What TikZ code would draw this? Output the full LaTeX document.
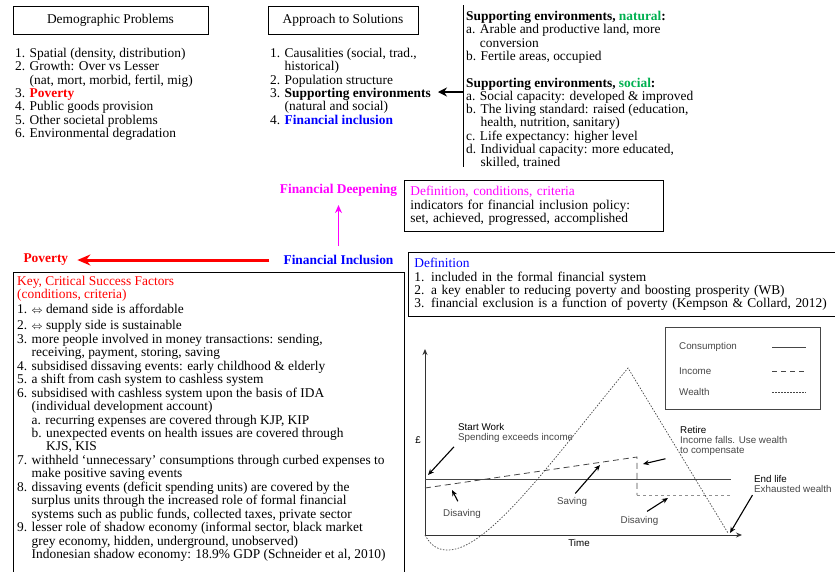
\documentclass[tikz,border=0pt]{standalone}
\usepackage{fontspec}
\setmainfont{Liberation Serif}
\newfontfamily\chartfont{Liberation Sans}
\usetikzlibrary{positioning,arrows.meta,fit}
\definecolor{envgreen}{RGB}{0,176,80}
\definecolor{deepmagenta}{RGB}{255,0,255}
\definecolor{chartgray}{RGB}{70,70,70}
\tikzset{
	>=Stealth
}
\newcommand{\itemind}{\hphantom{1. }}
\newcommand{\iffarrow}{{\fontsize{11}{11}\selectfont$\Leftrightarrow$}}

\begin{document}
\begin{tikzpicture}[
	x = 1pt, y = -1pt,
	node distance = 2mm,
	every node/.style = {
		font = \fontsize{13.4}{13.3}\selectfont,
		inner sep = 0pt
	},
	headbox/.style = {
		draw,
		line width = 0.8pt,
		minimum height = 28pt
	},
	listtext/.style = {
		anchor = north west,
		align = left
	},
	infobox/.style = {
		draw,
		line width = 0.8pt,
		anchor = north west,
		align = left,
		inner xsep = 6pt,
		inner ysep = 6pt
	},
	keyword/.style = {
		font = \fontsize{13.4}{13.3}\selectfont\bfseries
	},
	chartlabel/.style = {
		font = \chartfont\fontsize{9.8}{9.9}\selectfont,
		text = chartgray,
		align = left
	},
	pointer/.style = {
		-{Stealth[length=6pt,width=5pt]},
		line width = 1.1pt
	},
	curve/.style = {
		draw = chartgray,
		line width = 0.8pt
	}
	]

	\useasboundingbox (0,0) rectangle (835,571);

	% problems and approach
	\node[headbox, minimum width = 195pt] (demohead) at (110.5,20) {Demographic Problems};
	\node[headbox, minimum width = 150pt] (approachhead) at (343,20) {Approach to Solutions};

	\node[listtext] (demolist) at (15,48) {1. Spatial (density, distribution)\\
		2. Growth: Over vs Lesser\\
		\itemind(nat, mort, morbid, fertil, mig)\\
		3. \textcolor{red}{\textbf{Poverty}}\\
		4. Public goods provision\\
		5. Other societal problems\\
		6. Environmental degradation};

	\node[listtext] (approachlist) at (270,48) {1. Causalities (social, trad.,\\
		\itemind historical)\\
		2. Population structure\\
		3. \textbf{Supporting environments}\\
		\itemind(natural and social)\\
		4. \textcolor{blue}{\textbf{Financial inclusion}}};

	\coordinate (septop) at (463,5);
	\coordinate (sepbot) at (463,167);
	\draw[line width = 1pt] (septop) -- (sepbot);

	\node[listtext] (envlist) at (466,11) {\textbf{Supporting environments, \textcolor{envgreen}{natural}:}\\
		a. Arable and productive land, more\\
		\hphantom{a. }conversion\\
		b. Fertile areas, occupied\\[13.3pt]
		\textbf{Supporting environments, \textcolor{envgreen}{social}:}\\
		a. Social capacity: developed \& improved\\
		b. The living standard: raised (education,\\
		\hphantom{b. }health, nutrition, sanitary)\\
		c. Life expectancy: higher level\\
		d. Individual capacity: more educated,\\
		\hphantom{d. }skilled, trained};

	\coordinate (envfrom) at (463,92);
	\draw[-{Stealth[length=9pt,width=9pt]}, line width = 1.6pt, shorten > = 7pt] (envfrom) -- (envfrom -| approachlist.east);

	% financial inclusion
	\node[keyword, text = blue] (fininc) at (338.5,260) {Financial Inclusion};
	\node[keyword, text = deepmagenta, above = 58pt of fininc] (findeep) {Financial Deepening};
	\node[keyword, text = red, left = 215pt of fininc] (poverty) {Poverty};

	\draw[-{Stealth[length=8pt,width=7pt]}, deepmagenta, line width = 1.2pt, shorten < = 9pt, shorten > = 8pt] (fininc) -- (findeep);
	\draw[-{Stealth[length=13pt,width=11pt]}, red, line width = 3pt, shorten < = 14pt, shorten > = 9pt] (fininc) -- (poverty);

	\node[infobox, text width = 247pt] (deepdef) at (404,180) {\textcolor{deepmagenta}{Definition, conditions, criteria}\\
		indicators for financial inclusion policy:\\
		set, achieved, progressed, accomplished};

	\node[infobox, text width = 425pt] (incdef) at (408,252) {\textcolor{blue}{Definition}\\
		1. included in the formal financial system\\
		2. a key enabler to reducing poverty and boosting prosperity (WB)\\
		3. financial exclusion is a function of poverty (Kempson \& Collard, 2012)};

	\node[listtext, font = \fontsize{13.4}{13.45}\selectfont] (keytext) at (17,276) {\textcolor{red}{Key, Critical Success Factors}\\
		\textcolor{red}{(conditions, criteria)}\\[1.5pt]
		1. \iffarrow\ demand side is affordable\\[2.5pt]
		2. \iffarrow\ supply side is sustainable\\
		3. more people involved in money transactions: sending,\\
		\itemind receiving, payment, storing, saving\\
		4. subsidised dissaving events: early childhood \& elderly\\
		5. a shift from cash system to cashless system\\
		6. subsidised with cashless system upon the basis of IDA\\
		\itemind(individual development account)\\
		\itemind a. recurring expenses are covered through KJP, KIP\\
		\itemind b. unexpected events on health issues are covered through\\
		\itemind\hphantom{b. }KJS, KIS\\
		7. withheld ‘unnecessary’ consumptions through curbed expenses to\\
		\itemind make positive saving events\\
		8. dissaving events (deficit spending units) are covered by the\\
		\itemind surplus units through the increased role of formal financial\\
		\itemind systems such as public funds, collected taxes, private sector\\
		9. lesser role of shadow economy (informal sector, black market\\
		\itemind grey economy, hidden, underground, unobserved)\\
		\itemind Indonesian shadow economy: 18.9\% GDP (Schneider et al, 2010)};
	\coordinate (keycorner) at (400,596);
	\node[draw, line width = 0.8pt, inner sep = 4pt, fit = (keytext.north west) (keycorner)] (keybox) {};

	% life cycle chart
	\coordinate (origin) at (425,535);
	\coordinate (yend) at (425,349);
	\coordinate (xend) at (742,535);
	\draw[-{Stealth[length=6pt,width=5pt]}, line width = 0.9pt, draw = black!80] (origin) -- (yend);
	\draw[-{Stealth[length=6pt,width=5pt]}, line width = 0.9pt, draw = black!80] (origin) -- (xend);
	\node[chartlabel, text = black] (pound) at (418,440) {£};
	\node[chartlabel, text = black] (timelabel) at (579,543) {Time};

	\node[draw = chartgray, line width = 0.8pt, minimum width = 155pt, minimum height = 82pt, anchor = north west] (legend) at (665,327) {};
	\node[chartlabel, anchor = west] (legcons) at (679,347) {Consumption};
	\node[chartlabel, anchor = west] (leginc) at (679,371) {Income};
	\node[chartlabel, anchor = west] (legwealth) at (679,392) {Wealth};
	\draw[curve] (772,347) -- (806,347);
	\draw[curve, dash pattern = on 5pt off 4pt] (772,371) -- (806,371);
	\draw[curve, line width = 0.7pt, dash pattern = on 1.5pt off 1.5pt] (772,392) -- (806,392);

	\draw[curve] (425,479) -- (731,479);
	\draw[curve, dash pattern = on 6pt off 4pt] (425,488) -- (637,457) -- (637,495);
	\draw[curve, line width = 0.6pt, draw = chartgray!60, dash pattern = on 3pt off 3pt] (637,495) -- (731,495);
	\draw[curve, line width = 0.7pt, dash pattern = on 1.5pt off 1.5pt] (425,535) .. controls (432,548) and (440,550) .. (448,550)
		.. controls (490,550) and (560,450) .. (628,368) -- (728,533);

	\node[chartlabel, anchor = north west] (startwork) at (458,423) {\textcolor{black}{Start Work}\\ Spending exceeds income};
	\node[chartlabel, anchor = north west] (retire) at (680,426) {\textcolor{black}{Retire}\\ Income falls. Use wealth\\ to compensate};
	\node[chartlabel, anchor = north west] (endlife) at (754,475) {\textcolor{black}{End life}\\ Exhausted wealth};
	\node[chartlabel] (disavingl) at (462,514) {Disaving};
	\node[chartlabel] (saving) at (572,502) {Saving};
	\node[chartlabel] (disavingr) at (639.5,521) {Disaving};

	\coordinate (startpt) at (428,475);
	\coordinate (retirept) at (643,464);
	\coordinate (endpt) at (730,533);
	\coordinate (disavinglpt) at (452,490);
	\coordinate (savingpt) at (600,465);
	\coordinate (disavingrpt) at (668,498);

	\draw[pointer, shorten < = 6pt] (startwork.south west) -- (startpt);
	\draw[pointer, shorten < = 15pt] (retire.south west) -- (retirept);
	\draw[pointer, shorten < = 3pt] (endlife.south west) -- (endpt);
	\draw[pointer, shorten < = 9pt] (disavingl.north) -- (disavinglpt);
	\draw[pointer, shorten < = 5pt] (saving.north) -- (savingpt);
	\draw[pointer, shorten < = 9pt] (disavingr.north) -- (disavingrpt);

\end{tikzpicture}
\end{document}
